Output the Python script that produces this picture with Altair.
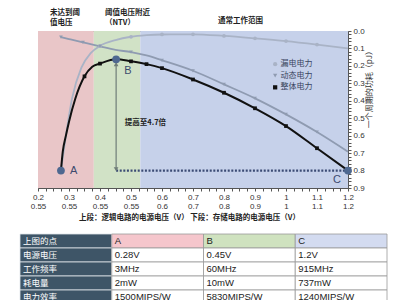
import json
import altair as alt
import pandas as pd

# ---------------- data ----------------
series_names = ["漏电电力", "动态电力", "整体电力"]

leak_v = [0.274, 0.29, 0.31, 0.34, 0.37, 0.40, 0.45, 0.50, 0.55, 0.60, 0.70, 0.80, 0.90, 1.00, 1.10, 1.20]
leak_e = [0.80, 0.60, 0.385, 0.21, 0.127, 0.085, 0.052, 0.033, 0.024, 0.020, 0.019, 0.028, 0.042, 0.058, 0.078, 0.100]
leak_m = [0, 0, 0, 0, 0, 1, 0, 1, 0, 1, 1, 1, 1, 1, 1, 0]

dyn_v = [0.274, 0.30, 0.345, 0.40, 0.45, 0.50, 0.55, 0.60, 0.70, 0.80, 0.90, 1.00, 1.10, 1.20]
dyn_e = [0.035, 0.046, 0.065, 0.088, 0.108, 0.121, 0.140, 0.168, 0.228, 0.306, 0.386, 0.478, 0.579, 0.692]
dyn_m = [1, 0, 1, 1, 0, 1, 0, 1, 1, 1, 1, 1, 1, 0]

tot_v = [0.274, 0.28, 0.29, 0.30, 0.32, 0.35, 0.375, 0.40, 0.452, 0.50, 0.55, 0.60, 0.70, 0.80, 0.90, 1.00, 1.10, 1.20]
tot_e = [0.80, 0.69, 0.60, 0.52, 0.39, 0.26, 0.205, 0.187, 0.162, 0.174, 0.19, 0.213, 0.278, 0.354, 0.443, 0.545, 0.672, 0.80]
tot_m = [0, 0, 0, 0, 0, 1, 0, 1, 0, 1, 1, 1, 1, 1, 1, 1, 1, 0]

key_names = ["A", "B", "C"]
key_v = [0.274, 0.452, 1.2]
key_e = [0.80, 0.162, 0.80]
key_label_v = [0.303, 0.478, 1.152]
key_label_e = [0.80, 0.23, 0.855]

region_names = ["未达到阈值电压", "阈值电压附近", "通常工作范围"]
region_start = [0.2, 0.38, 0.53]
region_end = [0.38, 0.53, 1.2]

top_lines = ["未达到阈", "值电压", "阈值电压附近", "（NTV）", "通常工作范围"]
top_v = [0.239, 0.239, 0.416, 0.416, 0.781]
top_e = [-0.103, -0.046, -0.103, -0.046, -0.057]

legend_v = 0.965
legend_text_v = 0.982
legend_e = [0.19, 0.256, 0.323]

gain_text = "提高至4.7倍"
gain_v, gain_e = 0.48, 0.528
arrow_v, arrow_top, arrow_bottom = 0.452, 0.19, 0.792
floor_v0, floor_v1, floor_e = 0.452, 1.2, 0.80

x_upper = ["0.2", "0.3", "0.4", "0.5", "0.6", "0.7", "0.8", "0.9", "1", "1.1", "1.2"]
x_lower = ["0.55", "0.55", "0.55", "0.55", "0.6", "0.7", "0.8", "0.9", "1", "1.1", "1.2"]
y_labels = ["0.0", "0.1", "0.2", "0.3", "0.4", "0.5", "0.6", "0.7", "0.8", "0.9"]
x_title = "上段：逻辑电路的电源电压（V）   下段：存储电路的电源电压（V）"
y_title = "一个周期的功耗（pJ）"

table_rows = ["上图的点", "电源电压", "工作频率", "耗电量", "电力效率"]
table_a = ["A", "0.28V", "3MHz", "2mW", "1500MIPS/W"]
table_b = ["B", "0.45V", "60MHz", "10mW", "5830MIPS/W"]
table_c = ["C", "1.2V", "915MHz", "737mW", "1240MIPS/W"]

# ---------------- styles ----------------
F_CJK = "Noto Sans CJK SC"
F_LAT = "Liberation Sans"
series_colors = ["#a9b3c6", "#8f9bb1", "#111111"]
series_shapes = ["circle", "triangle-down", "square"]
region_colors = ["#e9c6c8", "#d1e2c6", "#c6d1ea"]
key_color = "#4e6890"

x_ticks = [round(0.2 + 0.025 * i, 3) for i in range(41)]
y_ticks = [round(0.02 * i, 2) for i in range(46)]
x_expr = ("abs(datum.value*10 - round(datum.value*10)) < 0.01 ? [%s[round(datum.value*10)-2], %s[round(datum.value*10)-2]] : ''"
          % (json.dumps(x_upper), json.dumps(x_lower)))
y_expr = ("abs(datum.value*10 - round(datum.value*10)) < 0.01 ? %s[round(datum.value*10)] : ''"
          % json.dumps(y_labels))

xs = alt.Scale(domain=[0.2, 1.2], nice=False, zero=False)
ys = alt.Scale(domain=[0, 0.9], reverse=True, nice=False, zero=False)
xaxis = alt.Axis(values=x_ticks, labelExpr=x_expr, tickSize=3, tickColor="#555", domainColor="#555",
                 labelFont=F_LAT, labelFontSize=8, labelColor="#333", labelLineHeight=9.5,
                 labelFlush=False, labelOverlap=False, labelPadding=2, labelBaseline="top", grid=False,
                 title=x_title, titleFont=F_CJK, titleFontSize=7.5, titleFontWeight="bold",
                 titleColor="#222", titlePadding=3, titleX=151)
yaxis = alt.Axis(orient="right", values=y_ticks, labelExpr=y_expr, tickSize=3, tickColor="#555",
                 domainColor="#555", labelFont=F_LAT, labelFontSize=8, labelColor="#333",
                 labelFlush=False, labelOverlap=False, labelPadding=2, grid=False,
                 title=y_title, titleFont=F_CJK, titleFontSize=8, titleFontWeight="normal",
                 titleColor="#333", titleAngle=270, titleAlign="center", titleY=56, titlePadding=9)


def X(field):
    return alt.X(field, type="quantitative", scale=xs, axis=xaxis)


def Y(field):
    return alt.Y(field, type="quantitative", scale=ys, axis=yaxis)


# ---------------- data frames ----------------
curves = pd.concat([
    pd.DataFrame({"series": series_names[0], "V": leak_v, "E": leak_e, "m": leak_m, "o": range(len(leak_v))}),
    pd.DataFrame({"series": series_names[1], "V": dyn_v, "E": dyn_e, "m": dyn_m, "o": range(len(dyn_v))}),
    pd.DataFrame({"series": series_names[2], "V": tot_v, "E": tot_e, "m": tot_m, "o": range(len(tot_v))}),
], ignore_index=True)
regions = pd.DataFrame({"region": region_names, "V": region_start, "V2": region_end})
keys = pd.DataFrame({"name": key_names, "V": key_v, "E": key_e, "LV": key_label_v, "LE": key_label_e})
tops = pd.DataFrame({"t": top_lines, "V": top_v, "E": top_e})
legend_df = pd.DataFrame({"series": series_names, "V": legend_v, "TV": legend_text_v, "E": legend_e})

color_enc = alt.Color("series:N", scale=alt.Scale(domain=series_names, range=series_colors), legend=None)
shape_enc = alt.Shape("series:N", scale=alt.Scale(domain=series_names, range=series_shapes), legend=None)

rects = alt.Chart(regions).mark_rect().encode(
    x=X("V"), x2="V2",
    fill=alt.Fill("region:N", scale=alt.Scale(domain=region_names, range=region_colors), legend=None))

line_layers = []
for i, s in enumerate(series_names):
    line_layers.append(
        alt.Chart(curves).transform_filter(alt.datum.series == s)
        .mark_line(interpolate="monotone", strokeWidth=2.0 if i == 2 else 1.8)
        .encode(x=X("V"), y=Y("E"), order="o:Q", color=color_enc))

markers = alt.Chart(curves).transform_filter(alt.datum.m == 1).mark_point(filled=True, opacity=1, size=14).encode(
    x=X("V"), y=Y("E"), color=color_enc, shape=shape_enc)

floor = alt.Chart(pd.DataFrame({"V": [floor_v0], "V2": [floor_v1], "E": [floor_e]})).mark_rule(
    color="#3b4b74", strokeWidth=2.2, strokeDash=[2, 1.6]).encode(x=X("V"), x2="V2", y=Y("E"))

arrow_df = pd.DataFrame({"V": [arrow_v], "E": [arrow_top], "E2": [arrow_bottom]})
arrow = alt.Chart(arrow_df).mark_rule(color="#6f7d78", strokeWidth=1.2).encode(x=X("V"), y=Y("E"), y2="E2")
heads = alt.Chart(pd.DataFrame({"V": [arrow_v, arrow_v], "E": [arrow_top, arrow_bottom],
                                "s": ["triangle-up", "triangle-down"]})).mark_point(
    filled=True, opacity=1, size=22, color="#6f7d78").encode(
    x=X("V"), y=Y("E"), shape=alt.Shape("s:N", scale=None))

key_pts = alt.Chart(keys).mark_circle(size=60, opacity=1, color=key_color).encode(x=X("V"), y=Y("E"))
key_txt = alt.Chart(keys).mark_text(align="left", baseline="middle", font=F_LAT, fontSize=11,
                                    color="#3d4a6e").encode(x=X("LV"), y=Y("LE"), text="name:N")

top_txt = alt.Chart(tops).mark_text(align="left", baseline="middle", font=F_CJK, fontSize=7.5,
                                    fontWeight="bold", color="#222").encode(x=X("V"), y=Y("E"), text="t:N")
gain = alt.Chart(pd.DataFrame({"t": [gain_text], "V": [gain_v], "E": [gain_e]})).mark_text(
    align="left", baseline="middle", font=F_CJK, fontSize=7.5, fontWeight="bold", color="#222").encode(
    x=X("V"), y=Y("E"), text="t:N")

leg_pts = alt.Chart(legend_df).mark_point(filled=True, opacity=1, size=18).encode(
    x=X("V"), y=Y("E"), color=color_enc, shape=shape_enc)
leg_txt = alt.Chart(legend_df).mark_text(align="left", baseline="middle", font=F_CJK, fontSize=8,
                                         color="#3a4660").encode(x=X("TV"), y=Y("E"), text="series:N")

main = alt.layer(rects, *line_layers, markers, floor, arrow, heads, key_pts, key_txt, top_txt, gain,
                 leg_pts, leg_txt)

# ---------------- table ----------------
cells = []
cols = [table_rows, table_a, table_b, table_c]
head_kinds = ["hA", "hB", "hC"]
for c, col in enumerate(cols):
    for r, txt in enumerate(col):
        if c == 0:
            kind = "label"
        elif r == 0:
            kind = head_kinds[c - 1]
        else:
            kind = "data"
        cells.append({"col": c, "row": r, "t": txt, "kind": kind})
cells = pd.DataFrame(cells)
kinds = ["label", "hA", "hB", "hC", "data"]
tx = alt.Scale(range=[-18, 349], paddingInner=0, paddingOuter=0)
ty = alt.Scale(range=[203, 273], paddingInner=0, paddingOuter=0)

cell_rect = alt.Chart(cells).mark_rect(strokeWidth=0.8).encode(
    x=alt.X("col:O", scale=tx, axis=None),
    y=alt.Y("row:O", scale=ty, axis=None),
    fill=alt.Fill("kind:N", scale=alt.Scale(domain=kinds, range=["#3e5567", "#f5c6cc", "#cfe2bf", "#d3dbf0", "#ffffff"]), legend=None),
    stroke=alt.Stroke("kind:N", scale=alt.Scale(domain=kinds, range=["#dfe4ea", "#999999", "#999999", "#999999", "#999999"]), legend=None))
cell_lab = alt.Chart(cells).transform_filter(alt.datum.col == 0).mark_text(
    align="left", baseline="middle", dx=3, font=F_CJK, fontSize=8.5, color="#ffffff").encode(
    x=alt.X("col:O", scale=tx, axis=None, bandPosition=0),
    y=alt.Y("row:O", scale=ty, axis=None), text="t:N")
cell_val = alt.Chart(cells).transform_filter(alt.datum.col > 0).mark_text(
    align="left", baseline="middle", dx=3, font=F_LAT, fontSize=9.5, color="#222222").encode(
    x=alt.X("col:O", scale=tx, axis=None, bandPosition=0),
    y=alt.Y("row:O", scale=ty, axis=None), text="t:N")
table = alt.layer(cell_rect, cell_lab, cell_val)

chart = alt.layer(main, table).resolve_scale(
    x="independent", y="independent", fill="independent", stroke="independent",
    color="independent", shape="independent").properties(
    width=310, height=157, autosize=alt.AutoSizeParams(type="none"),
    padding={"left": 38, "top": 31, "right": 52, "bottom": 112}
).configure_view(stroke="#9a9a9a", strokeWidth=1)

chart.save("out.html", embed_options={"renderer": "svg", "actions": False})
